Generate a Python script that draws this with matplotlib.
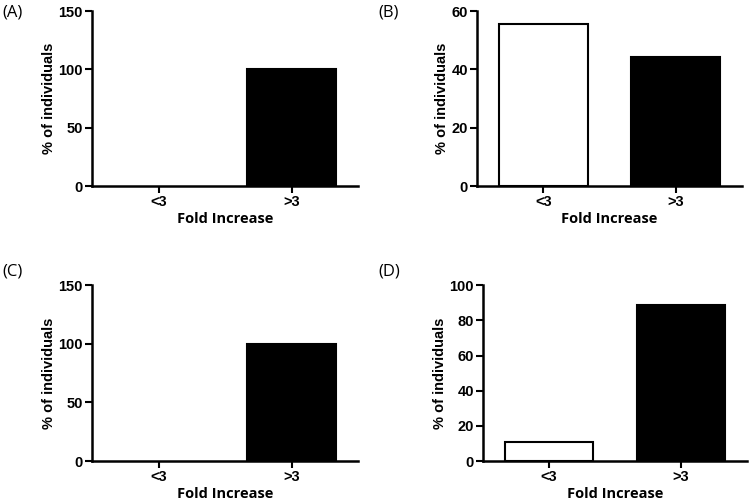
import matplotlib.pyplot as plt

categories = ['<3', '>3']
panel_labels = ['(A)', '(B)', '(C)', '(D)']
values_a = [0, 100]
values_b = [55.6, 44.4]
values_c = [0, 100]
values_d = [11.1, 88.9]
ylims = [150, 60, 150, 100]
yticks = [[0, 50, 100, 150], [0, 20, 40, 60], [0, 50, 100, 150], [0, 20, 40, 60, 80, 100]]

fig = plt.figure(figsize=(7.5, 5.01), dpi=100)

# [left, bottom, width, height] in figure fractions
boxes = [
    [0.1227, 0.6287, 0.3547, 0.3493],
    [0.636, 0.6287, 0.353, 0.3493],
    [0.1227, 0.0798, 0.3547, 0.351],
    [0.644, 0.0798, 0.352, 0.351],
]
label_pos = [(0.003, 0.975), (0.504, 0.975), (0.003, 0.458), (0.504, 0.458)]

all_values = [values_a, values_b, values_c, values_d]

for box, vals, lab, lp, ym, yt in zip(boxes, all_values, panel_labels, label_pos, ylims, yticks):
    ax = fig.add_axes(box)
    lws = [1.5 if v > 0 else 0 for v in vals]
    ax.bar([0, 1], vals, width=0.67, color=['white', 'black'],
           edgecolor='black', linewidth=lws)
    ax.set_xlim(-0.5, 1.5)
    ax.set_ylim(0, ym)
    ax.set_xticks([0, 1])
    ax.set_xticklabels(categories, rotation=0)
    ax.set_yticks(yt)
    for s in ['top', 'right']:
        ax.spines[s].set_visible(False)
    for s in ['left', 'bottom']:
        ax.spines[s].set_linewidth(1.8)
    ax.tick_params(direction='out', length=5, width=1.5, labelsize=10.5, pad=1.5)
    for t in ax.get_xticklabels() + ax.get_yticklabels():
        t.set_fontfamily('Liberation Sans')
        t.set_fontweight('bold')
    ax.set_ylabel('% of individuals', fontsize=10.5, fontweight='bold',
                  family='Liberation Sans', labelpad=2)
    ax.set_xlabel('Fold Increase', fontsize=10.5, fontweight='bold',
                  family='Open Sans', labelpad=2)
    fig.text(lp[0], lp[1], lab, fontsize=12, family='Open Sans', va='center', ha='left')

plt.savefig('out.png', dpi=100)
